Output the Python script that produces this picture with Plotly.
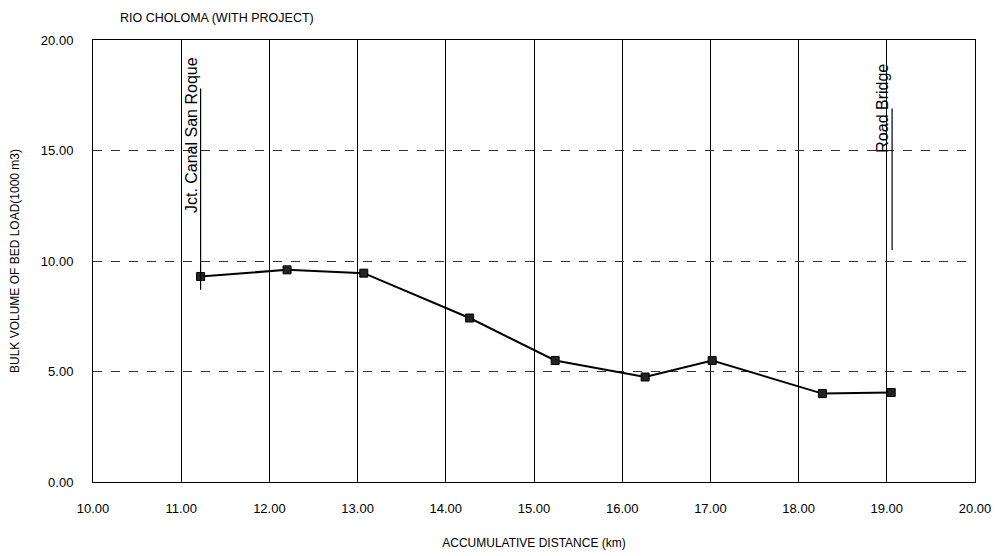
import plotly.graph_objects as go

distance_km = [11.22, 12.20, 13.07, 14.27, 15.24, 16.26, 17.02, 18.27, 19.05]
bed_load = [9.30, 9.60, 9.45, 7.42, 5.50, 4.75, 5.50, 4.00, 4.05]

markers_x = [11.22, 19.06]
markers_label = ["Jct. Canal San Roque", "Road Bridge"]
markers_label_top = [19.3, 19.0]
markers_top = [17.8, 16.9]
markers_bottom = [8.7, 10.5]

x_ticks = [10, 11, 12, 13, 14, 15, 16, 17, 18, 19, 20]
y_ticks = [0, 5, 10, 15, 20]

font = "Liberation Sans, Arial, sans-serif"

fig = go.Figure()
fig.add_trace(go.Scatter(
    x=distance_km, y=bed_load, mode="lines+markers",
    line=dict(color="black", width=2),
    marker=dict(symbol="square", size=8, color="#222", line=dict(color="black", width=1)),
    showlegend=False,
))

for xv, lab, ltop, top, bot in zip(markers_x, markers_label, markers_label_top, markers_top, markers_bottom):
    fig.add_shape(type="line", x0=xv, x1=xv, y0=bot, y1=top, line=dict(color="black", width=1.2))
    fig.add_annotation(x=xv, y=ltop, text=lab, textangle=-90, showarrow=False,
                       xanchor="center", yanchor="top", xshift=-9,
                       font=dict(family=font, size=16, color="black"))

fig.update_layout(
    width=991, height=548,
    margin=dict(l=85, r=24, t=32, b=74, autoexpand=False),
    paper_bgcolor="white", plot_bgcolor="white",
    font=dict(family=font, size=13, color="black"),
    title=dict(text="RIO CHOLOMA (WITH PROJECT)", x=112/991, xanchor="left", y=1-10/548, yanchor="middle",
               font=dict(family=font, size=12.5, color="black"), automargin=False),
)
fig.update_xaxes(
    range=[10, 20], tickvals=x_ticks, tickformat=".2f",
    showgrid=True, gridcolor="black", gridwidth=1.3,
    showline=True, linecolor="black", linewidth=1, mirror=True,
    ticks="", ticklabelstandoff=14, automargin=False,
    zeroline=False,
    tickfont=dict(family=font, size=13),
    title=dict(text="ACCUMULATIVE DISTANCE (km)", font=dict(family=font, size=12), standoff=24),
)
fig.update_yaxes(
    range=[0, 20], tickvals=y_ticks, tickformat=".2f",
    showgrid=True, gridcolor="#333", gridwidth=1, griddash="dash",
    showline=True, linecolor="black", linewidth=1, mirror=True,
    ticks="", ticklabelstandoff=16, zeroline=False, automargin=False,
    tickfont=dict(family=font, size=13),
    title=dict(text="BULK VOLUME OF BED LOAD(1000 m3)", font=dict(family=font, size=12), standoff=18),
)

fig.write_html("out.html")
